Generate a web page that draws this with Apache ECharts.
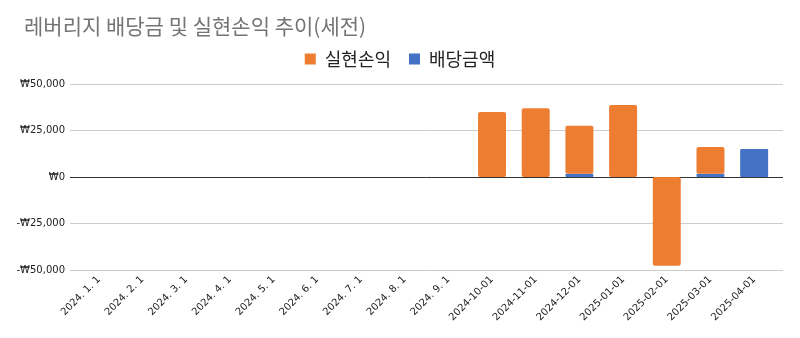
<!DOCTYPE html>
<html>
<head>
<meta charset="utf-8">
<script src="https://cdn.jsdelivr.net/npm/echarts@6/dist/echarts.min.js"></script>
<style>
html,body{margin:0;padding:0;background:#fff;}
#chart{width:800px;height:338px;}
</style>
</head>
<body>
<div id="chart"></div>
<script>
// Monthly categories
const categories = ['2024. 1. 1','2024. 2. 1','2024. 3. 1','2024. 4. 1','2024. 5. 1','2024. 6. 1','2024. 7. 1','2024. 8. 1','2024. 9. 1',
  '2024-10-01','2024-11-01','2024-12-01','2025-01-01','2025-02-01','2025-03-01','2025-04-01'];
// Realized profit/loss (KRW)
const realized = [null,null,null,null,null,null,null,null,null,35000,37000,25800,38700,-47700,14300,null];
// Dividends (KRW)
const dividends = [null,null,null,null,null,null,null,null,null,null,null,1800,null,null,1800,15000];
// Value axis ticks
const yTicks = [-50000,-25000,0,25000,50000];

const won = v => (v < 0 ? '-₩' : '₩') + Math.abs(v).toLocaleString('en-US');
const font = '"Noto Sans CJK KR", "Liberation Sans", sans-serif';
const numFont = '"DejaVu Sans", sans-serif';
const yMin = yTicks[0], yMax = yTicks[yTicks.length - 1];

const chart = echarts.init(document.getElementById('chart'), null, {renderer:'canvas'});
chart.setOption({
  animation:false,
  textStyle:{fontFamily:font},
  title:{
    text:'레버리지 배당금 및 실현손익 추이(세전)',
    left:19, top:11,
    textStyle:{color:'#757575', fontSize:21, fontWeight:'normal', fontFamily:font}
  },
  legend:{
    top:45, left:'center',
    itemWidth:11, itemHeight:11, itemGap:18,
    icon:'rect',
    data:['실현손익','배당금액'],
    textStyle:{fontSize:18, color:'#222', fontFamily:font, padding:[0,0,0,4]}
  },
  // grid 0 carries the value gridlines, grid 1 (slightly inset) carries the bars
  grid:[
    {left:70, right:17, top:84, bottom:68},
    {left:77, right:24, top:84, bottom:68}
  ],
  xAxis:[
    {
      gridIndex:0, type:'value', min:0, max:1, show:false
    },
    {
      gridIndex:1, type:'category', data:categories,
      axisLine:{show:false, onZero:false},
      axisTick:{show:false},
      axisLabel:{rotate:45, fontSize:10, color:'#222', margin:8, interval:0, fontFamily:numFont}
    }
  ],
  yAxis:[
    {
      gridIndex:0, type:'value',
      min:yMin, max:yMax, interval:25000,
      axisLine:{show:false}, axisTick:{show:false},
      axisLabel:{formatter:won, fontSize:10, color:'#222', margin:5, fontFamily:numFont},
      splitLine:{lineStyle:{color:['#cccccc','#cccccc','#333333','#cccccc','#cccccc'], width:1}}
    },
    {
      gridIndex:1, type:'value',
      min:yMin, max:yMax, interval:25000, show:false,
      splitLine:{show:false}
    }
  ],
  series:[
    {
      name:'배당금액', type:'bar', stack:'total', data:dividends,
      xAxisIndex:1, yAxisIndex:1,
      barWidth:'64%',
      itemStyle:{color:'#4472c4', borderRadius:1}
    },
    {
      name:'실현손익', type:'bar', stack:'total', data:realized,
      xAxisIndex:1, yAxisIndex:1,
      barWidth:'64%',
      itemStyle:{color:'#ed7d31', borderRadius:2}
    }
  ]
});
</script>
</body>
</html>
